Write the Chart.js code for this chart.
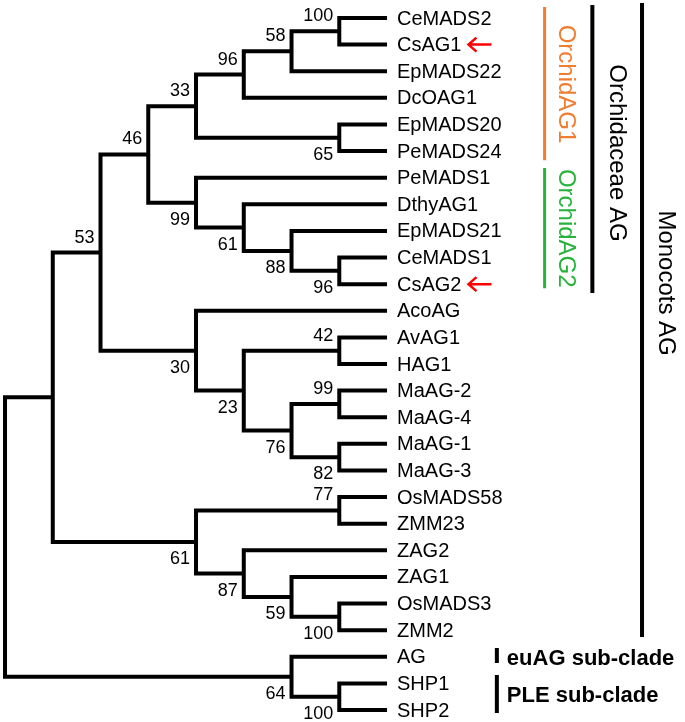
<!DOCTYPE html>
<html>
<head>
<meta charset="utf-8">
<script src="https://cdn.jsdelivr.net/npm/chart.js@4/dist/chart.umd.min.js"></script>
<style>
  body { margin: 0; background: #fff; }
  #wrap { width: 685px; height: 722px; position: relative; }
</style>
</head>
<body>
<div id="wrap"><canvas id="treeChart"></canvas></div>
<script>
// leaves, top to bottom
const leafNames = ['CeMADS2', 'CsAG1', 'EpMADS22', 'DcOAG1', 'EpMADS20', 'PeMADS24', 'PeMADS1',
  'DthyAG1', 'EpMADS21', 'CeMADS1', 'CsAG2', 'AcoAG', 'AvAG1', 'HAG1', 'MaAG-2', 'MaAG-4',
  'MaAG-1', 'MaAG-3', 'OsMADS58', 'ZMM23', 'ZAG2', 'ZAG1', 'OsMADS3', 'ZMM2', 'AG', 'SHP1', 'SHP2'];
const leafDepth = 8;

// internal nodes (children listed before parents)
const nodeNames = ['c1', 'c2', 'c3', 'c4', 'c5', 'c6', 'c7', 'c8', 'c9', 'c10', 'c11', 'c12', 'c13',
  'c14', 'c15', 'c16', 'c17', 'c18', 'c19', 'c20', 'c21', 'c22', 'c23', 'c24', 'c25', 'root'];
const nodeChildren = [
  ['CeMADS2', 'CsAG1'], ['c1', 'EpMADS22'], ['c2', 'DcOAG1'], ['EpMADS20', 'PeMADS24'], ['c3', 'c4'],
  ['CeMADS1', 'CsAG2'], ['EpMADS21', 'c6'], ['DthyAG1', 'c7'], ['PeMADS1', 'c8'], ['c5', 'c9'],
  ['AvAG1', 'HAG1'], ['MaAG-2', 'MaAG-4'], ['MaAG-1', 'MaAG-3'], ['c12', 'c13'], ['c11', 'c14'],
  ['AcoAG', 'c15'], ['c10', 'c16'], ['OsMADS58', 'ZMM23'], ['OsMADS3', 'ZMM2'], ['ZAG1', 'c19'],
  ['ZAG2', 'c20'], ['c18', 'c21'], ['c17', 'c22'], ['SHP1', 'SHP2'], ['AG', 'c24'], ['c23', 'c25']
];
const nodeDepth = [7, 6, 5, 7, 4, 7, 6, 5, 4, 3, 7, 7, 7, 6, 5, 4, 2, 7, 7, 6, 5, 4, 1, 7, 6, 0];
const bootstrap = [100, 58, 96, 65, 33, 96, 88, 61, 99, 46, 42, 99, 82, 76, 23, 30, 53, 77, 100, 59, 87, 61, null, 100, 64, null];
const bootSide = ['a', 'a', 'a', 'b', 'a', 'b', 'b', 'b', 'b', 'a', 'a', 'a', 'b', 'b', 'b', 'b', 'a', 'a', 'b', 'b', 'b', 'b', '', 'b', 'b', ''];

// leaves marked with a red arrow
const markedLeaves = ['CsAG1', 'CsAG2'];

// clade brackets on the right
const cladeNames = ['OrchidAG1', 'OrchidAG2', 'Orchidaceae AG', 'Monocots AG', 'euAG sub-clade', 'PLE sub-clade'];
const cladeFirst = ['CeMADS2', 'PeMADS1', 'CeMADS2', 'CeMADS2', 'AG', 'SHP1'];
const cladeLast = ['PeMADS24', 'CsAG2', 'CsAG2', 'ZMM2', 'AG', 'SHP2'];
const cladeColors = ['#F07D32', '#28B43C', '#000000', '#000000', '#000000', '#000000'];

// bracket placement (x column in scale units, pads in leaf units)
const bracketLayout = [
  { col: 11.3, padTop: 0.41, padBottom: 0.34, textAt: 2.48, dx: 21, width: 3, rotate: true },
  { col: 11.3, padTop: 0.36, padBottom: 0.15, textAt: 7.9, dx: 21, width: 3, rotate: true },
  { col: 12.3, padTop: 0.49, padBottom: 0.33, textAt: 5.07, dx: 24, width: 4, rotate: true },
  { col: 13.34, padTop: 0.56, padBottom: 0.26, textAt: 9.96, dx: 24, width: 4, rotate: true },
  { col: 10.3, padTop: 0.33, padBottom: 0.23, textAt: 24.05, dx: 10, width: 4, rotate: false },
  { col: 10.3, padTop: 0.32, padBottom: 0.11, textAt: 25.44, dx: 10, width: 4, rotate: false }
];

// node positions: leaves at their row, internal nodes at mid of first/last child
const pos = {};
leafNames.forEach((n, i) => { pos[n] = { x: leafDepth, y: i }; });
nodeNames.forEach((n, k) => {
  const kids = nodeChildren[k].map(c => pos[c]);
  pos[n] = { x: nodeDepth[k], y: (kids[0].y + kids[kids.length - 1].y) / 2 };
});

const datasets = [];
nodeNames.forEach((n, k) => {
  const top = pos[nodeChildren[k][0]];
  const bot = pos[nodeChildren[k][nodeChildren[k].length - 1]];
  const d = nodeDepth[k];
  datasets.push({
    data: [{ x: top.x, y: top.y }, { x: d, y: top.y }, { x: d, y: bot.y }, { x: bot.x, y: bot.y }],
    borderColor: '#000',
    borderWidth: 4,
    borderJoinStyle: 'miter',
    pointRadius: 0,
    fill: false,
    clip: false
  });
});

cladeNames.forEach((name, i) => {
  const lay = bracketLayout[i];
  const y0 = leafNames.indexOf(cladeFirst[i]) - lay.padTop;
  const y1 = leafNames.indexOf(cladeLast[i]) + lay.padBottom;
  datasets.push({
    data: [{ x: lay.col, y: y0 }, { x: lay.col, y: y1 }],
    borderColor: cladeColors[i],
    borderWidth: lay.width,
    pointRadius: 0,
    fill: false,
    clip: false
  });
});

const FONT = "'Liberation Sans', Arial, sans-serif";

// draws leaf names, bootstrap values, arrows and clade labels
const treeText = {
  id: 'treeText',
  afterDatasetsDraw(chart) {
    const { ctx, scales: { x, y } } = chart;
    ctx.save();

    // leaf names
    ctx.font = '20px ' + FONT;
    ctx.fillStyle = '#000';
    ctx.textAlign = 'left';
    ctx.textBaseline = 'middle';
    leafNames.forEach((n, i) => {
      const tx = x.getPixelForValue(leafDepth) + 10;
      const ty = y.getPixelForValue(i);
      ctx.fillText(n, tx, ty + 1);
      if (markedLeaves.includes(n)) {
        const ax = tx + ctx.measureText(n).width + 7;
        ctx.save();
        ctx.strokeStyle = '#FF0000';
        ctx.lineWidth = 2.5;
        ctx.beginPath();
        ctx.moveTo(ax, ty);
        ctx.lineTo(ax + 23, ty);
        ctx.moveTo(ax + 8, ty - 7);
        ctx.lineTo(ax, ty);
        ctx.lineTo(ax + 8, ty + 7);
        ctx.stroke();
        ctx.restore();
      }
    });

    // bootstrap values
    ctx.font = '18px ' + FONT;
    ctx.textAlign = 'right';
    nodeNames.forEach((n, k) => {
      if (bootstrap[k] == null) return;
      const px = x.getPixelForValue(nodeDepth[k]) - 6;
      const py = y.getPixelForValue(pos[n].y) + (bootSide[k] === 'a' ? -15 : 17);
      ctx.fillText(String(bootstrap[k]), px, py);
    });

    // clade labels
    cladeNames.forEach((name, i) => {
      const lay = bracketLayout[i];
      const bx = x.getPixelForValue(lay.col);
      const by = y.getPixelForValue(lay.textAt);
      ctx.fillStyle = cladeColors[i];
      if (lay.rotate) {
        ctx.save();
        ctx.translate(bx + lay.dx, by);
        ctx.rotate(Math.PI / 2);
        ctx.font = '24px ' + FONT;
        ctx.textAlign = 'center';
        ctx.textBaseline = 'middle';
        ctx.fillText(name, 0, 0);
        ctx.restore();
      } else {
        ctx.font = 'bold 22px ' + FONT;
        ctx.textAlign = 'left';
        ctx.textBaseline = 'middle';
        ctx.fillText(name, bx + lay.dx, by + 1);
      }
    });

    ctx.restore();
  }
};

new Chart(document.getElementById('treeChart'), {
  type: 'line',
  data: { datasets: datasets },
  options: {
    responsive: true,
    maintainAspectRatio: false,
    animation: false,
    layout: { padding: 0 },
    scales: {
      x: { type: 'linear', min: -0.105, max: 14.24, display: false },
      y: { type: 'linear', reverse: true, min: -0.676, max: 26.45, display: false }
    },
    plugins: {
      legend: { display: false },
      tooltip: { enabled: false }
    }
  },
  plugins: [treeText]
});
</script>
</body>
</html>
